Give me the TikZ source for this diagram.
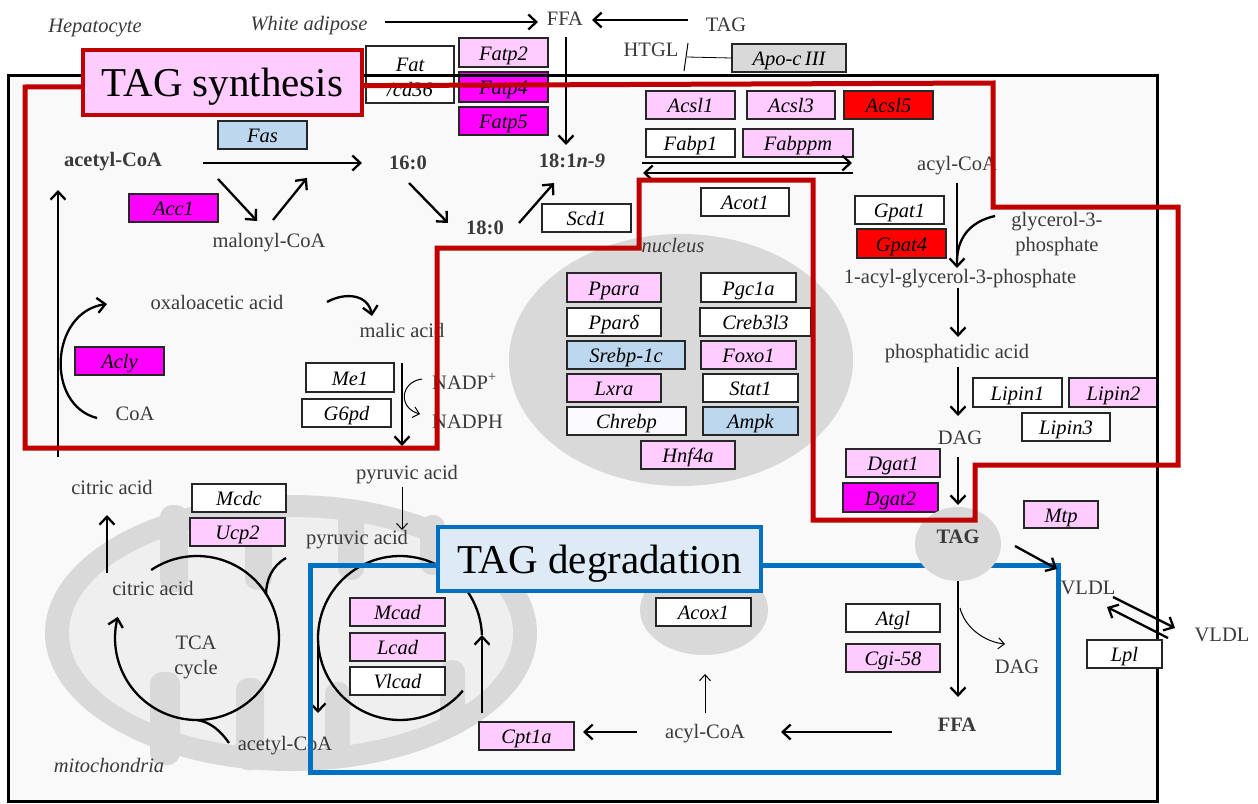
\documentclass[tikz,border=0pt]{standalone}
\usepackage{fontspec}
\setmainfont{Liberation Serif}
\usetikzlibrary{arrows.meta}
\definecolor{pinkG}{HTML}{FFCCFF}
\definecolor{magG}{HTML}{FF00FF}
\definecolor{redG}{HTML}{FF0000}
\definecolor{blueG}{HTML}{BDD7EE}
\definecolor{grayG}{HTML}{D9D9D9}
\definecolor{offW}{HTML}{FAFAFF}
\definecolor{synred}{HTML}{C00000}
\definecolor{degblue}{HTML}{0070C0}
\definecolor{degfill}{HTML}{DEEBF7}
\definecolor{txt}{HTML}{3A3A3A}
\definecolor{cellbg}{HTML}{F9F9F9}
\definecolor{orgg}{HTML}{D9D9D9}
\definecolor{mitoin}{HTML}{EFEFEF}
\newcommand\lbf{\fontsize{20.5pt}{23pt}\selectfont}
\newcommand\gbox[7]{\node[gene,fill=#6,minimum width={(#4-#2)*1pt},minimum height={(#5-#3)*1pt}] (#1) at ({(#2+#4)/2},{(#3+#5)/2}) {#7};}
\newcommand\conn[4][arr]{\coordinate (#2s) at (#3); \coordinate (#2e) at (#4); \draw[#1] (#2s) -- (#2e);}
\begin{document}
\begin{tikzpicture}[x=1pt,y=-1pt,
  lbl/.style={font=\lbf, text=txt, inner sep=0pt, text height=14pt, text depth=0pt},
  lblm/.style={font=\fontsize{20.5pt}{25pt}\selectfont, text=txt, inner sep=0pt, align=center},
  gene/.style={draw=black!85, line width=1.3pt, font=\lbf\itshape, inner sep=0pt, text height=15pt, text depth=0pt, text=black},
  arr/.style={line width=2.3pt, -{Straight Barb[length=8pt,width=15pt]}},
  thinarr/.style={line width=1pt, -{Straight Barb[length=6pt,width=11pt]}},
  ln/.style={line width=2.3pt},
  title/.style={font=\fontsize{41pt}{45pt}\selectfont, text=black, line width=4pt, inner sep=0pt, text height=28pt, text depth=0pt}]
\useasboundingbox (0,0) rectangle (1258,803);
\fill[white] (0,0) rectangle (1258,803);
% cell background
\fill[cellbg] (8,75) rectangle (1157,801);
% mitochondrion
\fill[orgg] (291,633) ellipse [x radius=246, y radius=138];
\fill[mitoin] (291,633) ellipse [x radius=222, y radius=116];
\begin{scope}[orgg, rounded corners=12pt]
\fill (160,505) rectangle (188,592);
\fill (245,505) rectangle (272,590);
\fill (338,505) rectangle (364,580);
\fill (420,515) rectangle (445,575);
\fill (150,672) rectangle (180,765);
\fill (236,678) rectangle (264,770);
\fill (325,682) rectangle (350,768);
\fill (440,660) rectangle (465,735);
\end{scope}
% nucleus, peroxisome
\fill[orgg] (681,360) ellipse [x radius=172, y radius=126];
\fill[orgg] (704,610) ellipse [x radius=64, y radius=45];
% outside labels
\node[lbl] (hep) at (95,25) {\itshape Hepatocyte};
\node[lbl] (wa) at (309,23) {\itshape White adipose};
\node[lbl] (ffaT) at (565,18) {FFA};
\node[lbl] (tagT) at (726,24) {TAG};
\node[lbl] (htgl) at (651,49) {HTGL};
\conn{a1}{385,22}{538,22}
\conn{a2}{688,20}{592,20}
\conn{a3}{566,37}{566,145}
% gene boxes top
\gbox{fat}{366}{46}{454}{103}{white}{}
\node[lblm, text=black, font=\fontsize{20.5pt}{25pt}\selectfont\itshape] (fattxt) at (410,77) {Fat\\/cd36};
\gbox{fatp2}{459}{38}{548}{67}{pinkG}{Fatp2}
\gbox{fatp4}{459}{72}{548}{102}{magG}{Fatp4}
\gbox{fatp5}{459}{107}{548}{135}{magG}{Fatp5}
\gbox{apoc}{732}{44}{846}{72}{grayG}{Apo-c\,III}
\coordinate (inh1) at (688,43); \coordinate (inh2) at (684,71); \coordinate (inh3) at (687,57);
\draw[line width=1pt] (inh1) -- (inh2);
\draw[line width=0.8pt] (inh3) -- (apoc.west);
% fatty acid synthesis
\node[lbl, font=\lbf\bfseries] (acoa) at (113,159) {acetyl-CoA};
\node[lbl, font=\lbf\bfseries] (c160) at (408,162) {16:0};
\node[lbl] (mal) at (269,240) {malonyl-CoA};
\node[lbl, font=\lbf\bfseries] (c180) at (485,227) {18:0};
\node[lbl, font=\lbf\bfseries] (c181) at (572,160) {18:1\textit{n-9}};
\gbox{fas}{218}{121}{307}{149}{blueG}{Fas}
\gbox{acc1}{129}{194}{218}{222}{magG}{Acc1}
\gbox{scd1}{542}{204}{631}{232}{white}{Scd1}
\conn{a4}{203,163}{362,163}
\conn{a5}{218,179}{257,221}
\conn{a6}{273,220}{307,178}
\conn{a7}{409,183}{448,223}
\conn{a8}{519,223}{554,183}
% acyl-CoA region
\gbox{acsl1}{646}{91}{735}{119}{pinkG}{Acsl1}
\gbox{acsl3}{747}{91}{835}{119}{pinkG}{Acsl3}
\gbox{acsl5}{844}{91}{933}{119}{redG}{Acsl5}
\gbox{fabp1}{646}{129}{735}{157}{white}{Fabp1}
\gbox{fabppm}{743}{129}{853}{157}{pinkG}{Fabppm}
\gbox{acot1}{701}{188}{789}{216}{white}{Acot1}
\conn{a9}{642,163}{852,163}
\conn{a10}{853,173}{643,173}
\node[lbl] (acylR) at (957,163) {acyl-CoA};
\node[lblm] (g3p) at (1057,234) {glycerol-3-\\phosphate};
\node[lbl] (agp) at (960,276) {1-acyl-glycerol-3-phosphate};
\node[lbl] (pa) at (957,351) {phosphatidic acid};
\node[lbl] (dag1) at (960,437) {DAG};
\gbox{gpat1}{855}{196}{944}{224}{white}{Gpat1}
\gbox{gpat4}{857}{229}{946}{258}{redG}{Gpat4}
\gbox{lipin1}{973}{378}{1062}{407}{white}{Lipin1}
\gbox{lipin2}{1069}{378}{1158}{407}{pinkG}{Lipin2}
\gbox{lipin3}{1022}{413}{1110}{441}{white}{Lipin3}
\gbox{dgat1}{846}{449}{940}{477}{pinkG}{Dgat1}
\gbox{dgat2}{843}{483}{938}{512}{magG}{Dgat2}
\gbox{mtp}{1024}{501}{1098}{528}{pinkG}{Mtp}
\conn{a11}{957,183}{957,268}
\coordinate (g3ps) at (995,216); \coordinate (g3pe) at (957,262);
\draw[ln] (g3ps) .. controls (968,222) and (957,240) .. (g3pe);
\conn{a12}{958,288}{958,337}
\conn{a13}{958,367}{958,416}
% VLDL
\node[lbl] (vldl1) at (1088,587) {VLDL};
\node[lbl] (vldl2) at (1222,634) {VLDL};
\conn{a16}{1113,597}{1175,628}
\conn{a17}{1168,638}{1107,607}
% degradation
\node[lbl] (dag2) at (1017,666) {DAG};
\node[lbl, font=\lbf\bfseries] (ffaB) at (957,724) {FFA};
\node[lbl] (acylB) at (705,731) {acyl-CoA};
\gbox{atgl}{846}{604}{940}{632}{white}{Atgl}
\gbox{cgi}{846}{644}{940}{672}{pinkG}{Cgi-58}
\gbox{acox1}{656}{598}{751}{626}{white}{Acox1}
\gbox{cpt1a}{479}{722}{574}{750}{pinkG}{Cpt1a}
\conn{a19}{892,732}{781,732}
\conn[thinarr]{a20}{705,713}{705,674}
\conn{a21}{637,732}{583,732}
\conn{a22}{482,713}{482,635}
% mitochondria content
\gbox{mcad}{350}{598}{445}{626}{pinkG}{Mcad}
\gbox{lcad}{350}{633}{445}{661}{pinkG}{Lcad}
\gbox{vlcad}{350}{667}{445}{695}{white}{Vlcad}
\gbox{mcdc}{192}{484}{286}{512}{white}{Mcdc}
\gbox{ucp2}{190}{518}{285}{546}{pinkG}{Ucp2}
\coordinate (betac) at (400,638);
\draw[ln] plot[domain=40:358, samples=90] ({400+82*cos(\x)},{638+82*sin(\x)});
\conn{a23}{318,640}{318,713}
\coordinate (tcac) at (197,638);
\draw[arr] plot[domain=236:555, samples=120] ({197+82*cos(\x)},{638+82*sin(\x)});
\coordinate (pyin1) at (286,558); \coordinate (pyin2) at (266,595);
\draw[ln] (pyin1) .. controls (272,566) and (266,580) .. (pyin2);
\coordinate (acin1) at (229,743); \coordinate (acin2) at (197,720);
\draw[ln] (acin1) .. controls (220,730) and (210,722) .. (acin2);
\node[lblm] (tca) at (196,657) {TCA\\cycle};
\node[lbl] (cit2) at (153,588) {citric acid};
\node[lbl] (cit1) at (112,487) {citric acid};
\node[lbl] (pyr2) at (357,537) {pyruvic acid};
\node[lbl] (pyr1) at (407,472) {pyruvic acid};
\node[lbl] (acoa2) at (285,743) {acetyl-CoA};
\node[lbl] (mito) at (109,765) {\itshape mitochondria};
\conn{a24}{107,573}{107,515}
\conn[thinarr]{a25}{402,487}{402,530}
% citrate shuttle
\node[lbl] (oaa) at (217,302) {oxaloacetic acid};
\node[lbl] (malic) at (402,330) {malic acid};
\node[lbl] (coa) at (135,413) {CoA};
\node[lbl, anchor=west] (nadp) at (432,382) {NADP\textsuperscript{+}};
\node[lbl, anchor=west] (nadph) at (432,421) {NADPH};
\gbox{acly}{75}{347}{164}{375}{magG}{Acly}
\gbox{me1}{306}{363}{394}{392}{white}{Me1}
\gbox{g6pd}{302}{399}{391}{427}{white}{G6pd}
\conn{a26}{402,363}{402,446}
\conn{a27}{58,457}{58,190}
\coordinate (coas) at (97,418); \coordinate (coae) at (107,304);
\draw[arr] (coas) .. controls (45,405) and (50,312) .. (coae);
\coordinate (oaas) at (327,302); \coordinate (oaae) at (372,316);
\draw[arr] (oaas) .. controls (345,292) and (368,294) .. (oaae);
\coordinate (nds) at (422,379); \coordinate (nde) at (420,414);
\draw[thinarr] (nds) .. controls (400,382) and (398,408) .. (nde);
% nucleus
\node[lbl] (nuc) at (673,245) {\itshape nucleus};
\gbox{ppara}{567}{273}{661}{302}{pinkG}{Ppara}
\gbox{pgc1a}{701}{273}{796}{302}{white}{Pgc1a}
\gbox{ppard}{567}{308}{661}{336}{white}{Ppar\textit{δ}}
\gbox{creb}{700}{308}{811}{336}{white}{Creb3l3}
\gbox{srebp}{567}{341}{685}{369}{blueG}{Srebp-1c}
\gbox{foxo1}{701}{341}{796}{369}{pinkG}{Foxo1}
\gbox{lxra}{567}{374}{661}{402}{pinkG}{Lxra}
\gbox{stat1}{703}{374}{798}{402}{white}{Stat1}
\gbox{chrebp}{567}{407}{686}{435}{offW}{Chrebp}
\gbox{ampk}{703}{407}{798}{435}{blueG}{Ampk}
\gbox{hnf4a}{641}{441}{735}{469}{pinkG}{Hnf4a}
% cell border
\draw[line width=3pt] (8,75) rectangle (1157,801);
\gbox{lpl}{1087}{640}{1162}{668}{white}{Lpl}
% degradation region
\draw[degblue, line width=5pt] (310,565) rectangle (1058,772);
% lipid droplet
\fill[orgg] (958,544) ellipse [x radius=43, y radius=37];
\node[lbl, font=\lbf\bfseries] (tagM) at (958,536) {TAG};
\conn{a14}{958,457}{958,505}
\conn{a15}{1015,546}{1057,569}
\conn{a18}{958,581}{958,697}
\coordinate (tds) at (960,608); \coordinate (tde) at (1005,644);
\draw[thinarr] (tds) .. controls (965,628) and (985,642) .. (tde);
% synthesis region
\draw[synred, line width=5pt] (25,87) -- (993,83) -- (993,207) -- (1178,207) -- (1178,465) -- (975,465) -- (975,520) -- (813,520) -- (813,180) -- (639,180) -- (639,248) -- (437,248) -- (437,448) -- (25,448) -- cycle;
% titles
\node[title, draw=synred, fill=pinkG, minimum width=279pt, minimum height=65pt] (syn) at (222.5,82.5) {TAG synthesis};
\node[title, draw=degblue, fill=degfill, minimum width=323pt, minimum height=64pt] (deg) at (599.5,559) {TAG degradation};
\end{tikzpicture}
\end{document}
